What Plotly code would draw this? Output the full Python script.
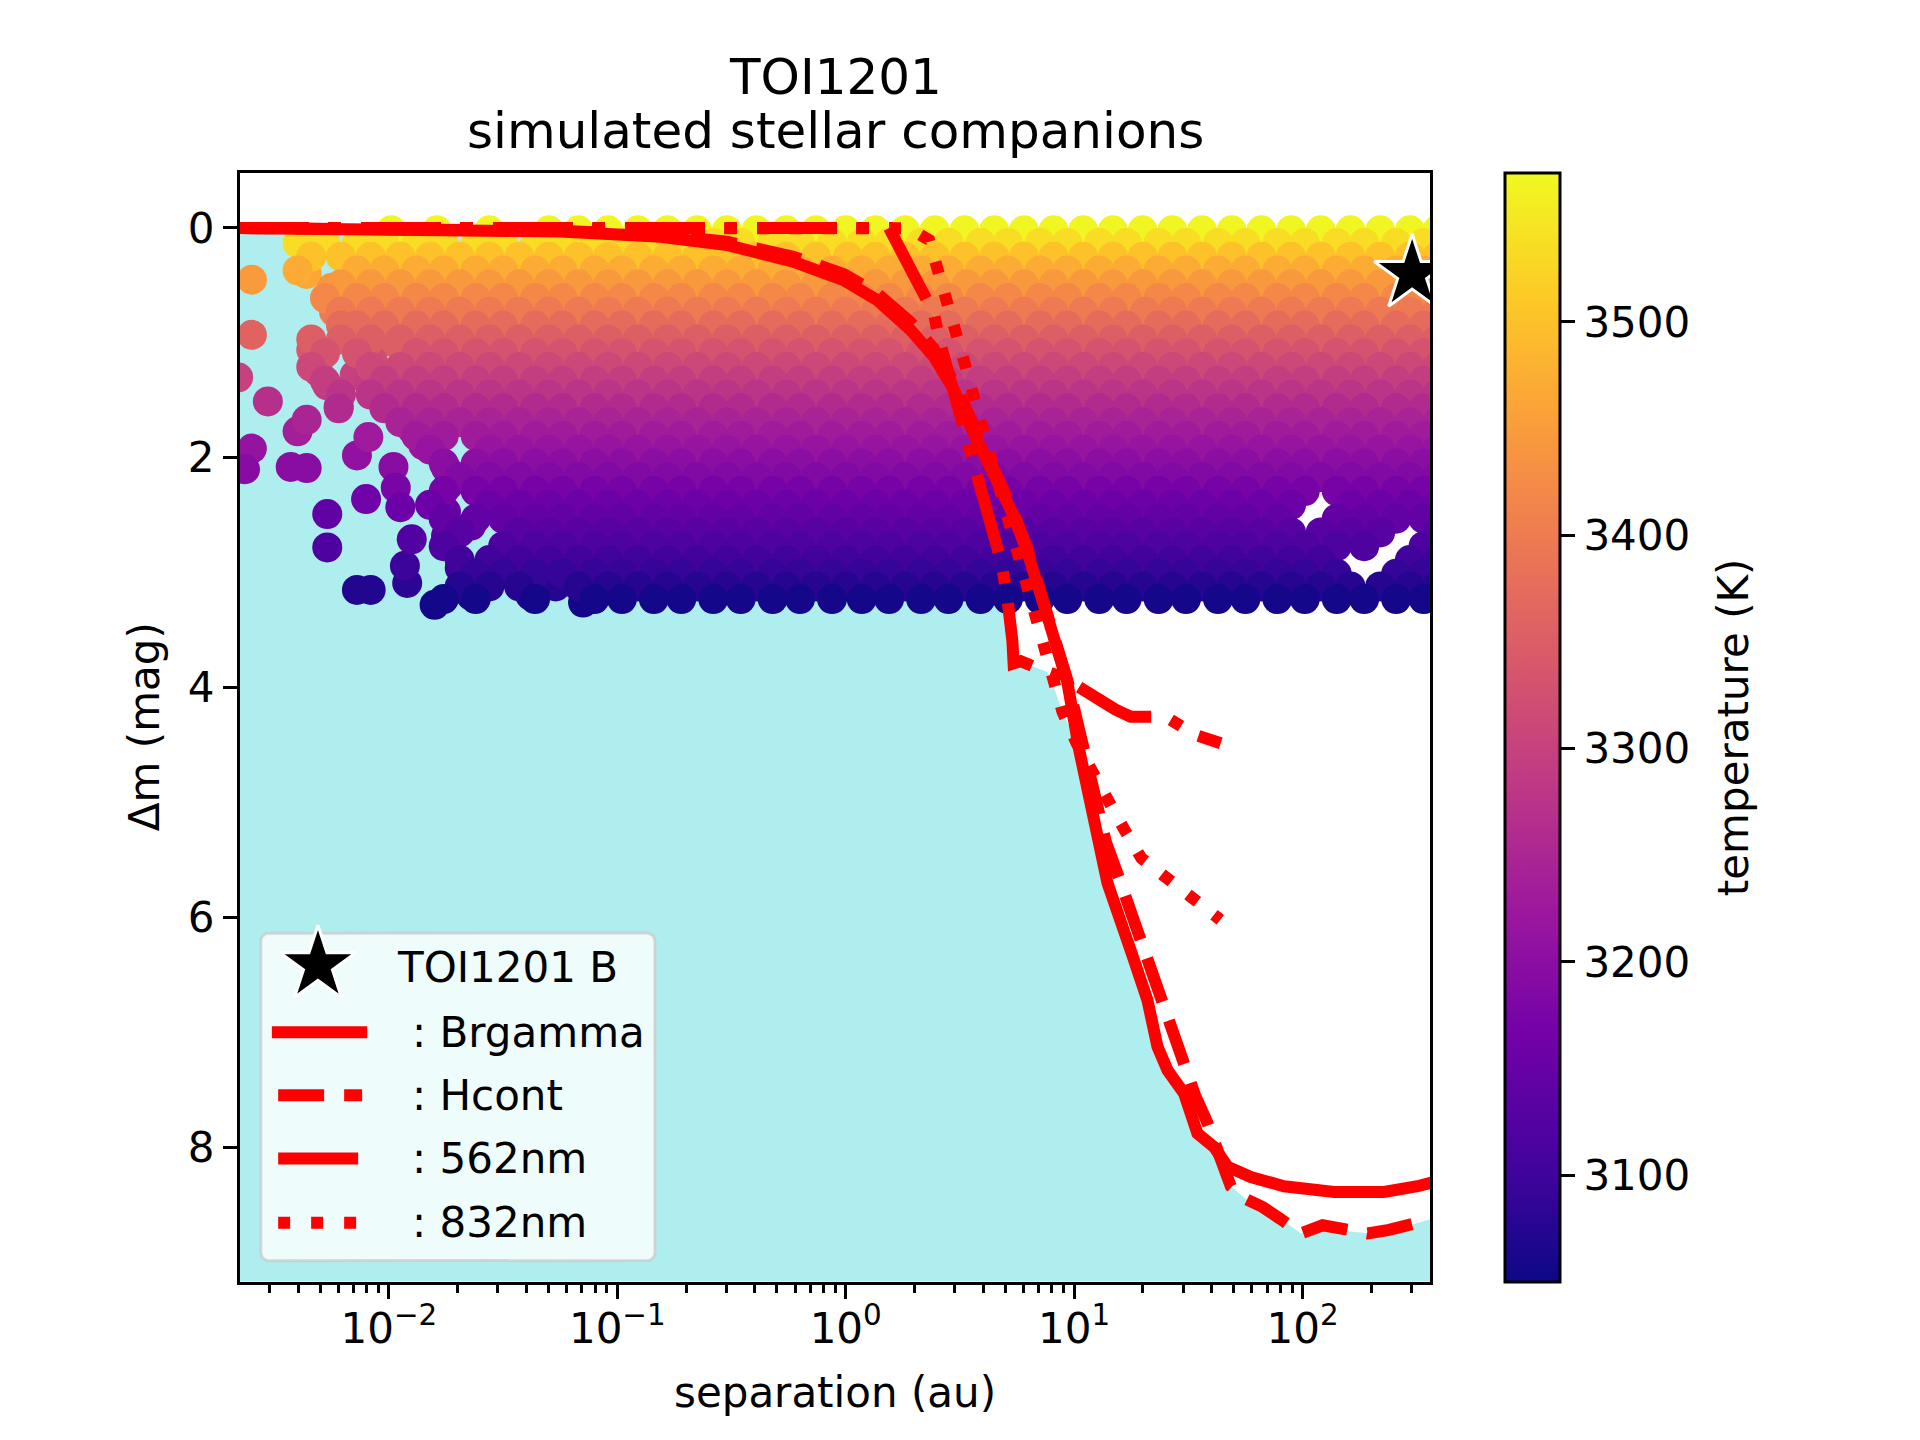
"""
TOI1201: simulated stellar companions against the measured contrast curves.
"""
import numpy as np
import plotly.graph_objects as go

FONT = "DejaVu Sans"
RED = "#ff0000"
W, H = 1920, 1440

# contrast curves, separation given as log10(au)
brg_logsep = [-2.70, -2.00, -1.60, -1.25, -0.81, -0.52, -0.23, -0.01, 0.138, 0.284,
              0.386, 0.474, 0.547, 0.60, 0.667, 0.734, 0.795, 0.883, 0.971, 1.022,
              1.080, 1.146, 1.262, 1.321, 1.365, 1.409, 1.481, 1.540, 1.613,
              1.672, 1.774, 1.919, 2.139, 2.357, 2.504, 2.555, 2.62]
brg_dmag = [0.00, 0.005, 0.015, 0.03, 0.076, 0.148, 0.294, 0.453, 0.627, 0.888,
            1.12, 1.41, 1.73, 1.93, 2.22, 2.50, 2.82, 3.38, 3.96, 4.54,
            5.12, 5.70, 6.37, 6.72, 7.125, 7.33, 7.53, 7.88, 8.00,
            8.17, 8.26, 8.34, 8.39, 8.39, 8.34, 8.30, 8.28]

hcont_logsep = [-2.70, -2.00, -1.60, -1.25, -0.81, -0.52, -0.23, -0.01, 0.138, 0.284,
                0.386, 0.474, 0.547, 0.60, 0.667, 0.734, 0.795, 0.883, 0.971, 1.02,
                1.08, 1.14, 1.197, 1.247, 1.292, 1.34, 1.387, 1.43, 1.474, 1.53,
                1.584, 1.636, 1.686, 1.75, 1.825, 1.90, 1.993, 2.088, 2.19, 2.285,
                2.379, 2.47, 2.555, 2.62]
hcont_dmag = [0.00, 0.004, 0.012, 0.025, 0.06, 0.12, 0.25, 0.40, 0.57, 0.82,
              1.05, 1.34, 1.66, 1.88, 2.18, 2.47, 2.79, 3.35, 3.94, 4.35,
              4.90, 5.35, 5.66, 5.95, 6.18, 6.45, 6.73, 7.00, 7.27, 7.55,
              7.79, 8.08, 8.34, 8.45, 8.52, 8.62, 8.75, 8.68, 8.73, 8.75,
              8.72, 8.68, 8.63, 8.60]

n562_logsep = [-2.70, 0.19, 0.225, 0.30, 0.386, 0.41, 0.50, 0.60, 0.68, 0.705,
               0.725, 0.73, 0.735, 0.766, 0.85, 0.941, 1.017, 1.102, 1.18, 1.248,
               1.365, 1.423, 1.533, 1.642]
n562_dmag = [0.00, 0.00, 0.134, 0.44, 0.743, 0.975, 1.62, 2.40, 2.90, 3.18,
             3.41, 3.60, 3.79, 3.77, 3.84, 3.905, 3.99, 4.108, 4.19, 4.253,
             4.253, 4.28, 4.413, 4.485]

n832_logsep = [-2.70, 0.24, 0.277, 0.365, 0.408, 0.452, 0.489, 0.525, 0.562, 0.60,
               0.65, 0.72, 0.79, 0.85, 0.905, 0.949, 1.01, 1.080, 1.143, 1.219,
               1.295, 1.406, 1.523, 1.628, 1.64]
n832_dmag = [0.00, 0.00, 0.003, 0.104, 0.38, 0.656, 0.932, 1.207, 1.48, 1.75,
             2.10, 2.60, 3.10, 3.55, 3.963, 4.21, 4.48, 4.74, 4.984, 5.233,
             5.486, 5.66, 5.843, 6.00, 6.02]

curve_names = ["Brgamma", "Hcont", "562nm", "832nm"]
curve_dash = ["solid", "46px,20px", "80px,20px,12px,20px", "12px,21px"]

# simulated companions: the sparse ones at small separation
sparse_logsep = [-2.60, -2.60, -2.66, -2.53, -2.60, -2.63, -2.43, -2.36, -2.40, -2.36,
                 -2.27, -2.27, -2.22, -2.14, -2.09, -2.10, -2.14, -2.08, -1.98, -1.97,
                 -1.95, -1.92, -1.93, -1.90, -1.80, -1.75, -1.74, -1.75, -1.69, -1.68,
                 -1.64, -1.59, -1.56, -1.75, -1.64, -1.54, -1.45, -1.47, -1.38, -1.27,
                 -1.15, -1.46, -1.41, -2.36, -2.25, -2.24, -2.20, -2.15, -2.34, -2.31,
                 -2.27, -2.15, -2.09, -2.02, -2.05, -1.97, -1.99, -2.10, -2.07, -2.15,
                 -2.09, -2.02, -1.94, -1.87, -1.95, -1.90, -1.85, -1.89, -1.82, -1.75,
                 -1.80, -1.79, -1.87, -1.72, -1.66, -1.59, -1.67, -1.60, -1.75]
sparse_dmag = [0.45, 0.93, 1.30, 1.51, 1.92, 2.10, 2.08, 2.09, 1.77, 1.67,
               2.49, 2.78, 1.55, 1.98, 1.82, 2.36, 3.15, 3.15, 2.08, 2.26,
               2.43, 3.09, 2.94, 2.71, 3.28, 2.09, 2.24, 2.47, 2.96, 3.12,
               3.20, 2.10, 2.27, 2.68, 2.59, 2.91, 2.80, 3.00, 3.20, 3.12,
               3.26, 2.21, 2.39, 0.40, 0.52, 0.73, 0.84, 0.93, 1.06, 1.25,
               1.37, 0.40, 0.48, 0.61, 0.35, 0.75, 0.99, 0.99, 1.16, 1.28,
               1.34, 1.48, 1.51, 1.57, 1.66, 1.75, 1.89, 0.81, 0.58, 0.70,
               0.87, 1.10, 1.22, 1.28, 1.37, 1.16, 1.57, 1.75, 1.51]
sparse_teff = [3447, 3360, 3300, 3268, 3212, 3195, 3197, 3196, 3236, 3248,
               3142, 3118, 3264, 3208, 3228, 3164, 3072, 3072, 3197, 3175,
               3156, 3080, 3098, 3124, 3055, 3196, 3177, 3150, 3096, 3075,
               3064, 3195, 3174, 3128, 3138, 3102, 3115, 3092, 3064, 3075,
               3056, 3181, 3160, 3465, 3440, 3398, 3376, 3360, 3338, 3306,
               3288, 3465, 3447, 3420, 3475, 3395, 3350, 3350, 3320, 3300,
               3292, 3272, 3268, 3260, 3248, 3237, 3220, 3382, 3428, 3404,
               3372, 3330, 3310, 3300, 3288, 3320, 3260, 3237, 3268]

# simulated companions: the dense band, one list of separations per delta-mag row
band_dmag = [0.02, 0.13, 0.25, 0.37, 0.49, 0.61, 0.73, 0.85, 0.97, 1.09,
             1.21, 1.33, 1.45, 1.57, 1.69, 1.81, 1.93, 2.05, 2.17, 2.29,
             2.41, 2.53, 2.65, 2.77, 2.89, 3.01, 3.12, 3.23]
band_teff = [3565, 3535, 3500, 3470, 3445, 3420, 3398, 3375, 3352, 3332,
             3312, 3294, 3276, 3260, 3245, 3230, 3215, 3200, 3186, 3172,
             3158, 3145, 3132, 3118, 3104, 3090, 3075, 3058]
band_logsep = [
    # 0.02
    [-1.99, -1.79, -1.56, -1.30, -1.17, -1.04, -0.91, -0.78, -0.65, -0.52, -0.39, -0.26,
     -0.13, 0.00, 0.13, 0.26, 0.39, 0.52, 0.65, 0.78, 0.91, 1.04, 1.17, 1.30, 1.43,
     1.56, 1.69, 1.82, 1.95, 2.08, 2.21, 2.34, 2.47, 2.59],
    # 0.13
    [-2.40, -2.28, -2.14, -2.02, -1.88, -1.76, -1.62, -1.50, -1.36, -1.24, -1.10, -0.98,
     -0.84, -0.72, -0.58, -0.46, -0.32, -0.20, -0.06, 0.07, 0.19, 0.33, 0.45, 0.59,
     0.71, 0.85, 0.97, 1.11, 1.23, 1.37, 1.49, 1.63, 1.75, 1.89, 2.01, 2.15, 2.27,
     2.41, 2.53],
    # 0.25
    [-2.34, -2.21, -2.08, -1.95, -1.82, -1.69, -1.56, -1.43, -1.30, -1.17, -1.04, -0.91,
     -0.78, -0.65, -0.52, -0.39, -0.26, -0.13, 0.01, 0.13, 0.26, 0.39, 0.52, 0.65,
     0.78, 0.91, 1.04, 1.17, 1.30, 1.43, 1.56, 1.69, 1.82, 1.95, 2.08, 2.21, 2.34,
     2.47, 2.59],
    # 0.37
    [-2.40, -2.14, -2.02, -1.88, -1.76, -1.62, -1.50, -1.36, -1.24, -1.10, -0.98, -0.84,
     -0.72, -0.58, -0.46, -0.32, -0.20, -0.06, 0.07, 0.19, 0.33, 0.45, 0.59, 0.71,
     0.85, 0.97, 1.11, 1.23, 1.37, 1.49, 1.63, 1.75, 1.89, 2.01, 2.15, 2.27, 2.41, 2.53],
    # 0.49
    [-2.21, -2.08, -1.95, -1.82, -1.69, -1.56, -1.43, -1.30, -1.17, -1.04, -0.91, -0.78,
     -0.65, -0.52, -0.39, -0.26, -0.13, 0.00, 0.13, 0.26, 0.39, 0.53, 0.65, 0.78,
     0.91, 1.04, 1.17, 1.30, 1.43, 1.56, 1.69, 1.82, 1.95, 2.08, 2.21, 2.34, 2.47, 2.59],
    # 0.61
    [-2.28, -2.14, -2.02, -1.88, -1.76, -1.62, -1.50, -1.36, -1.24, -1.10, -0.98, -0.84,
     -0.72, -0.58, -0.46, -0.32, -0.20, -0.06, 0.07, 0.19, 0.33, 0.45, 0.59, 0.71,
     0.85, 0.97, 1.11, 1.23, 1.37, 1.49, 1.63, 1.75, 1.89, 2.01, 2.15, 2.27, 2.41, 2.53],
    # 0.73
    [-2.21, -2.08, -1.95, -1.82, -1.69, -1.56, -1.43, -1.30, -1.17, -1.04, -0.91, -0.78,
     -0.65, -0.52, -0.39, -0.26, -0.13, 0.00, 0.13, 0.26, 0.39, 0.52, 0.65, 0.78,
     0.91, 1.04, 1.17, 1.31, 1.43, 1.56, 1.69, 1.82, 1.95, 2.08, 2.21, 2.34, 2.47, 2.59],
    # 0.85
    [-2.21, -2.14, -2.02, -1.88, -1.76, -1.62, -1.50, -1.36, -1.24, -1.10, -0.98, -0.84,
     -0.72, -0.58, -0.46, -0.32, -0.20, -0.06, 0.07, 0.19, 0.33, 0.45, 0.59, 0.71,
     0.85, 0.97, 1.11, 1.23, 1.37, 1.49, 1.63, 1.75, 1.89, 2.01, 2.15, 2.27, 2.41, 2.53],
    # 0.97
    [-2.34, -2.21, -2.08, -1.95, -1.82, -1.69, -1.56, -1.43, -1.30, -1.17, -1.04, -0.91,
     -0.78, -0.65, -0.52, -0.39, -0.26, -0.13, 0.00, 0.13, 0.26, 0.39, 0.52, 0.65,
     0.78, 0.91, 1.04, 1.17, 1.30, 1.43, 1.56, 1.69, 1.82, 1.95, 2.08, 2.21, 2.34,
     2.47, 2.59],
    # 1.09
    [-2.28, -2.14, -1.88, -1.76, -1.62, -1.50, -1.36, -1.24, -1.10, -0.98, -0.84, -0.72,
     -0.58, -0.46, -0.32, -0.20, -0.06, 0.07, 0.19, 0.33, 0.45, 0.59, 0.71, 0.85,
     0.97, 1.11, 1.23, 1.37, 1.49, 1.63, 1.75, 1.89, 2.01, 2.15, 2.27, 2.41, 2.53],
    # 1.21
    [-2.34, -2.08, -1.95, -1.82, -1.69, -1.56, -1.43, -1.30, -1.17, -1.04, -0.91, -0.78,
     -0.65, -0.52, -0.39, -0.26, -0.13, 0.00, 0.13, 0.26, 0.39, 0.52, 0.65, 0.78,
     0.91, 1.04, 1.17, 1.30, 1.43, 1.56, 1.69, 1.82, 1.95, 2.08, 2.21, 2.34, 2.47, 2.59],
    # 1.33
    [-2.28, -2.02, -1.88, -1.76, -1.62, -1.50, -1.36, -1.24, -1.10, -0.98, -0.84, -0.72,
     -0.58, -0.46, -0.32, -0.20, -0.06, 0.07, 0.19, 0.33, 0.45, 0.59, 0.71, 0.85,
     0.97, 1.11, 1.23, 1.37, 1.49, 1.63, 1.75, 1.89, 2.01, 2.15, 2.27, 2.41, 2.53],
    # 1.45
    [-2.21, -2.08, -1.95, -1.82, -1.69, -1.56, -1.43, -1.30, -1.17, -1.04, -0.91, -0.78,
     -0.65, -0.52, -0.39, -0.26, -0.13, 0.00, 0.13, 0.26, 0.39, 0.52, 0.65, 0.78,
     0.91, 1.04, 1.17, 1.30, 1.43, 1.56, 1.69, 1.82, 1.95, 2.08, 2.21, 2.34, 2.47, 2.59],
    # 1.57
    [-2.22, -2.02, -1.88, -1.76, -1.62, -1.50, -1.36, -1.24, -1.10, -0.98, -0.84, -0.72,
     -0.58, -0.46, -0.32, -0.20, -0.06, 0.07, 0.19, 0.33, 0.45, 0.59, 0.71, 0.85,
     0.97, 1.11, 1.23, 1.37, 1.49, 1.63, 1.75, 1.89, 2.01, 2.15, 2.27, 2.41, 2.53],
    # 1.69
    [-1.95, -1.82, -1.69, -1.56, -1.43, -1.30, -1.17, -1.04, -0.91, -0.78, -0.65, -0.52,
     -0.39, -0.26, -0.13, 0.00, 0.13, 0.26, 0.39, 0.52, 0.65, 0.78, 0.91, 1.04,
     1.17, 1.30, 1.43, 1.56, 1.69, 1.82, 1.95, 2.08, 2.21, 2.34, 2.47, 2.59],
    # 1.81
    [-1.88, -1.76, -1.62, -1.50, -1.36, -1.24, -1.10, -0.98, -0.84, -0.72, -0.58, -0.46,
     -0.32, -0.20, -0.06, 0.07, 0.19, 0.33, 0.45, 0.59, 0.71, 0.85, 0.97, 1.11,
     1.23, 1.37, 1.49, 1.63, 1.75, 1.89, 2.01, 2.15, 2.27, 2.41, 2.53],
    # 1.93
    [-1.82, -1.56, -1.43, -1.30, -1.17, -1.04, -0.91, -0.78, -0.65, -0.52, -0.39, -0.26,
     -0.13, 0.00, 0.13, 0.26, 0.39, 0.52, 0.65, 0.78, 0.91, 1.04, 1.17, 1.30,
     1.43, 1.56, 1.69, 1.82, 1.95, 2.08, 2.21, 2.34, 2.47, 2.59],
    # 2.05
    [-1.76, -1.62, -1.50, -1.36, -1.24, -1.10, -0.98, -0.84, -0.72, -0.58, -0.46, -0.32,
     -0.20, -0.06, 0.07, 0.19, 0.33, 0.45, 0.59, 0.71, 0.85, 0.97, 1.11, 1.23,
     1.37, 1.49, 1.63, 1.75, 1.89, 2.01, 2.15, 2.27, 2.41, 2.53],
    # 2.17
    [-1.69, -1.56, -1.43, -1.30, -1.17, -1.04, -0.91, -0.78, -0.65, -0.52, -0.39, -0.26,
     -0.13, 0.00, 0.13, 0.26, 0.39, 0.52, 0.65, 0.78, 0.91, 1.04, 1.17, 1.30,
     1.43, 1.56, 1.69, 1.82, 1.95, 2.08, 2.21, 2.34, 2.47, 2.59],
    # 2.29
    [-1.76, -1.62, -1.50, -1.36, -1.24, -1.10, -0.98, -0.84, -0.72, -0.58, -0.46, -0.32,
     -0.20, -0.06, 0.07, 0.19, 0.33, 0.45, 0.59, 0.71, 0.85, 0.97, 1.11, 1.23,
     1.37, 1.49, 1.63, 1.75, 1.89, 2.01, 2.15, 2.27, 2.41, 2.53],
    # 2.41
    [-1.82, -1.56, -1.43, -1.30, -1.17, -1.04, -0.91, -0.78, -0.65, -0.52, -0.39, -0.26,
     -0.13, 0.00, 0.13, 0.26, 0.39, 0.52, 0.65, 0.78, 0.91, 1.04, 1.17, 1.30,
     1.43, 1.56, 1.69, 1.82, 1.95, 2.21, 2.34, 2.47, 2.59],
    # 2.53
    [-1.76, -1.62, -1.50, -1.36, -1.24, -1.10, -0.98, -0.84, -0.72, -0.58, -0.46, -0.32,
     -0.20, -0.06, 0.07, 0.19, 0.33, 0.45, 0.59, 0.71, 0.85, 0.97, 1.11, 1.23,
     1.37, 1.49, 1.63, 1.75, 1.89, 2.15, 2.27, 2.41, 2.53],
    # 2.65
    [-1.69, -1.43, -1.30, -1.17, -1.04, -0.91, -0.78, -0.65, -0.52, -0.39, -0.26, -0.13,
     0.00, 0.13, 0.26, 0.39, 0.52, 0.65, 0.78, 0.91, 1.04, 1.17, 1.30, 1.43,
     1.56, 1.69, 1.82, 1.95, 2.08, 2.21, 2.34, 2.59],
    # 2.77
    [-1.76, -1.50, -1.36, -1.24, -1.10, -0.98, -0.84, -0.72, -0.58, -0.46, -0.32, -0.20,
     -0.06, 0.07, 0.19, 0.33, 0.45, 0.59, 0.71, 0.85, 0.97, 1.11, 1.23, 1.37,
     1.49, 1.63, 1.75, 1.89, 2.01, 2.15, 2.27, 2.53],
    # 2.89
    [-1.69, -1.56, -1.43, -1.30, -1.17, -1.04, -0.91, -0.78, -0.65, -0.52, -0.39, -0.26,
     -0.13, 0.00, 0.13, 0.26, 0.39, 0.52, 0.65, 0.78, 0.91, 1.04, 1.17, 1.30,
     1.43, 1.56, 1.69, 1.82, 1.95, 2.08, 2.47, 2.59],
    # 3.01
    [-1.62, -1.50, -1.36, -1.24, -1.10, -0.98, -0.84, -0.72, -0.58, -0.46, -0.32, -0.20,
     -0.06, 0.07, 0.19, 0.33, 0.45, 0.59, 0.71, 0.85, 0.97, 1.11, 1.23, 1.37,
     1.49, 1.63, 1.75, 1.89, 2.01, 2.15, 2.41, 2.53],
    # 3.12
    [-1.69, -1.56, -1.43, -1.17, -1.04, -0.91, -0.78, -0.65, -0.52, -0.39, -0.26, -0.13,
     0.00, 0.13, 0.26, 0.39, 0.52, 0.65, 0.78, 0.91, 1.04, 1.17, 1.30, 1.43,
     1.56, 1.69, 1.82, 1.95, 2.08, 2.21, 2.34, 2.47, 2.59],
    # 3.23
    [-1.76, -1.62, -1.36, -1.10, -0.98, -0.84, -0.72, -0.58, -0.46, -0.32, -0.20, -0.06,
     0.07, 0.19, 0.33, 0.45, 0.59, 0.71, 0.85, 0.97, 1.11, 1.23, 1.37, 1.49,
     1.63, 1.75, 1.89, 2.01, 2.15, 2.27, 2.41, 2.53],
]

# the detected companion
comp_name = "TOI1201 B"
comp_logsep = [2.48]
comp_dmag = [0.40]

# pixel geometry (matplotlib default layout); the page body adds an 8 px margin
BODY = 8
AX_L, AX_R, AX_T, AX_B = 240, 1430.4, 172.8, 1281.6
LEG_L, LEG_T, LEG_R, LEG_B = 260.8, 933, 655, 1260.8


def fx(p):
    return (p - BODY) / W


def fy(p):
    return 1 - (p - BODY) / H


curves = [
    (np.array(brg_logsep), np.array(brg_dmag)),
    (np.array(hcont_logsep), np.array(hcont_dmag)),
    (np.array(n562_logsep), np.array(n562_dmag)),
    (np.array(n832_logsep), np.array(n832_dmag)),
]

# undetectable region: below the deepest of the curves
grid = np.unique(np.concatenate([c[0] for c in curves]))
env = np.full(grid.shape, -np.inf)
for lx, dm in curves:
    inside = (grid >= lx[0]) & (grid <= lx[-1])
    env[inside] = np.maximum(env[inside], np.interp(grid[inside], lx, dm))

cloud_logsep = list(sparse_logsep)
cloud_dmag = list(sparse_dmag)
cloud_teff = list(sparse_teff)
for dm, teff, row in zip(band_dmag, band_teff, band_logsep):
    cloud_logsep += row
    cloud_dmag += [dm] * len(row)
    cloud_teff += [teff] * len(row)

fig = go.Figure()

fig.add_trace(go.Scatter(
    x=10 ** grid[[0, -1]], y=[9.8, 9.8], mode="lines",
    line=dict(width=0), hoverinfo="skip"))
fig.add_trace(go.Scatter(
    x=10 ** grid, y=env, mode="lines", fill="tonexty",
    fillcolor="paleturquoise", line=dict(width=0), hoverinfo="skip"))

fig.add_trace(go.Scatter(
    x=10 ** np.array(cloud_logsep), y=cloud_dmag, mode="markers",
    marker=dict(
        size=30, color=cloud_teff, colorscale="Plasma", cmin=3050, cmax=3570,
        line=dict(width=0), showscale=True,
        colorbar=dict(
            thickness=55, thicknessmode="pixels",
            len=(AX_B - AX_T) / H, lenmode="fraction",
            x=fx(1505), xanchor="left", y=fy((AX_T + AX_B) / 2), yanchor="middle",
            xpad=0, ypad=0, outlinewidth=3, outlinecolor="black",
            ticks="outside", ticklen=14, tickwidth=3, tickcolor="black",
            tickvals=[3100, 3200, 3300, 3400, 3500],
            tickfont=dict(family=FONT, size=42, color="black"),
        ),
    ),
    hoverinfo="skip"))

for (lx, dm), dash in zip(curves, curve_dash):
    fig.add_trace(go.Scatter(
        x=10 ** lx, y=dm, mode="lines",
        line=dict(color=RED, width=12, dash=dash), hoverinfo="skip"))

fig.add_trace(go.Scatter(
    x=10 ** np.array(comp_logsep), y=comp_dmag, mode="markers",
    marker=dict(symbol="star", size=57, color="black",
                line=dict(color="white", width=3)),
    hoverinfo="skip"))

# ---- legend drawn on its own small axes ----
pad = 0.03
lw, lh = (LEG_R - LEG_L) / W, (LEG_B - LEG_T) / H
leg_xdom = [fx(LEG_L) - pad * lw, fx(LEG_R) + pad * lw]
leg_ydom = [fy(LEG_B) - pad * lh, fy(LEG_T) + pad * lh]

# rounded box
ru, rv = 8 / (LEG_R - LEG_L), 8 / (LEG_B - LEG_T)
bx, by = [], []
for cx, cy, a0 in [(1 - ru, 1 - rv, 0), (ru, 1 - rv, 90), (ru, rv, 180), (1 - ru, rv, 270)]:
    for a in np.radians(np.linspace(a0, a0 + 90, 7)):
        bx.append(cx + ru * np.cos(a))
        by.append(cy + rv * np.sin(a))
bx.append(bx[0])
by.append(by[0])
fig.add_trace(go.Scatter(
    x=bx, y=by, mode="lines", fill="toself", fillcolor="rgba(255,255,255,0.8)",
    line=dict(color="rgba(204,204,204,0.8)", width=3),
    xaxis="x2", yaxis="y2", hoverinfo="skip"))

fig.add_trace(go.Scatter(
    x=[0.145], y=[0.902], mode="markers", xaxis="x2", yaxis="y2",
    marker=dict(symbol="star", size=57, color="black",
                line=dict(color="white", width=3)),
    hoverinfo="skip"))

leg_rows = [0.697, 0.505, 0.312, 0.116]
leg_spans = [(0.028, 0.270), (0.044, 0.257), (0.044, 0.247), (0.044, 0.245)]
for v, (u0, u1), dash in zip(leg_rows, leg_spans, curve_dash):
    fig.add_trace(go.Scatter(
        x=[u0, u1], y=[v, v], mode="lines", xaxis="x2", yaxis="y2",
        line=dict(color=RED, width=12, dash=dash), hoverinfo="skip"))

annotations = [
    dict(text=comp_name, x=0.340, y=0.896, xref="x2", yref="y2",
         xanchor="left", yanchor="middle", showarrow=False,
         font=dict(family=FONT, size=42, color="black")),
]
for v, name in zip(leg_rows, curve_names):
    annotations.append(dict(
        text=": " + name, x=0.378, y=v, xref="x2", yref="y2",
        xanchor="left", yanchor="middle", showarrow=False,
        font=dict(family=FONT, size=42, color="black")))

# titles
mid_x = fx((AX_L + AX_R) / 2)
mid_y = fy((AX_T + AX_B) / 2)
annotations += [
    dict(text="TOI1201", x=mid_x, y=fy(77), xref="paper", yref="paper",
         xanchor="center", yanchor="middle", showarrow=False,
         font=dict(family=FONT, size=50, color="black")),
    dict(text="simulated stellar companions", x=mid_x, y=fy(131),
         xref="paper", yref="paper", xanchor="center", yanchor="middle",
         showarrow=False, font=dict(family=FONT, size=50, color="black")),
    dict(text="separation (au)", x=mid_x, y=fy(1392), xref="paper", yref="paper",
         xanchor="center", yanchor="middle", showarrow=False,
         font=dict(family=FONT, size=42, color="black")),
    dict(text="Δm (mag)", x=fx(144), y=mid_y, xref="paper", yref="paper",
         xanchor="center", yanchor="middle", textangle=-90, showarrow=False,
         font=dict(family=FONT, size=42, color="black")),
    dict(text="temperature (K)", x=fx(1733), y=mid_y, xref="paper", yref="paper",
         xanchor="center", yanchor="middle", textangle=-90, showarrow=False,
         font=dict(family=FONT, size=42, color="black")),
]

minor_vals = [m * 10.0 ** k for k in range(-3, 3) for m in range(2, 10)]
minor_vals = [v for v in minor_vals if -2.652 < np.log10(v) < 2.56]

axis_style = dict(
    showline=True, linecolor="black", linewidth=3, mirror=True,
    ticks="outside", ticklen=14, tickwidth=3, tickcolor="black",
    tickfont=dict(family=FONT, size=42, color="black"),
    showgrid=False, zeroline=False,
)

fig.update_layout(
    width=W, height=H, autosize=False,
    margin=dict(l=0, r=0, t=0, b=0),
    paper_bgcolor="white", plot_bgcolor="rgba(0,0,0,0)",
    showlegend=False, hovermode=False,
    font=dict(family=FONT, color="black"),
    xaxis=dict(
        type="log", range=[-2.652, 2.56], domain=[fx(AX_L), fx(AX_R)],
        tickvals=[0.01, 0.1, 1, 10, 100],
        ticktext=["10<sup>−2</sup>", "10<sup>−1</sup>", "10<sup>0</sup>",
                  "10<sup>1</sup>", "10<sup>2</sup>"],
        minor=dict(ticks="outside", ticklen=8, tickwidth=2.5, tickcolor="black",
                   tickvals=minor_vals, showgrid=False),
        ticklabelstandoff=-6,
        **axis_style),
    yaxis=dict(
        range=[9.17, -0.48], domain=[fy(AX_B), fy(AX_T)],
        tickvals=[0, 2, 4, 6, 8], ticklabelstandoff=0, **axis_style),
    xaxis2=dict(domain=leg_xdom, range=[-pad, 1 + pad], anchor="y2", visible=False),
    yaxis2=dict(domain=leg_ydom, range=[-pad, 1 + pad], anchor="x2", visible=False),
    annotations=annotations,
)

fig.write_html("out.html")
